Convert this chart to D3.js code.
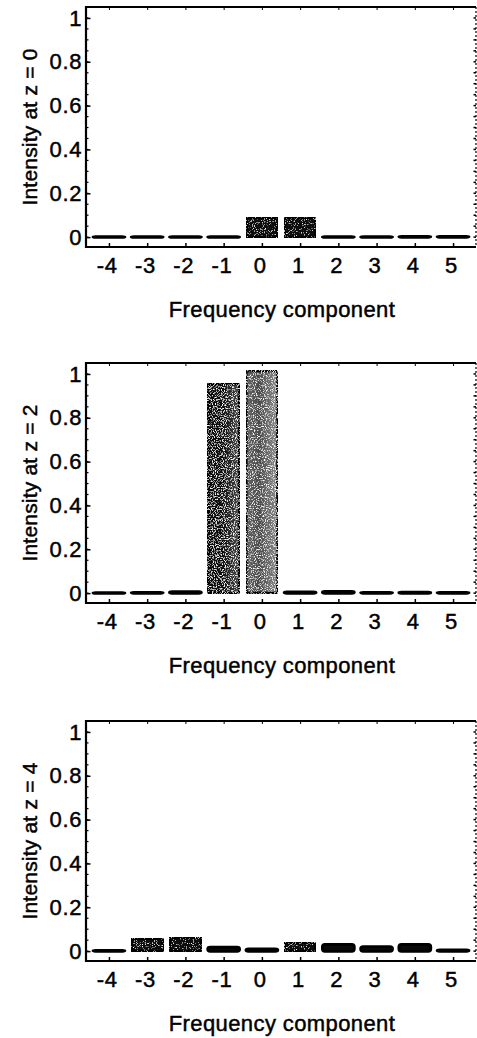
<!DOCTYPE html>
<html lang="en">
<head>
  <meta charset="utf-8">
  <title>Frequency component intensity</title>
  <script src="https://d3js.org/d3.v7.min.js"></script>
  <style>
    body { margin: 0; background: #fff; }
    svg text { font-family: "Liberation Sans", Arial, Helvetica, sans-serif; fill: #000; stroke: #000; stroke-width: 0.45px; }
  </style>
</head>
<body>
  <svg width="477" height="1038"></svg>

  <script>
    // data
    var components = [-4, -3, -2, -1, 0, 1, 2, 3, 4, 5];
    var intensityZ0 = [0.002, 0.002, 0.002, 0.002, 0.088, 0.088, 0.002, 0.002, 0.003, 0.003];
    var intensityZ2 = [0.002, 0.003, 0.006, 0.955, 1.015, 0.005, 0.007, 0.003, 0.004, 0.003];
    var intensityZ4 = [0.003, 0.056, 0.064, 0.018, 0.01, 0.04, 0.03, 0.02, 0.03, 0.005];
    var panelLabels = ["Intensity at z = 0", "Intensity at z = 2", "Intensity at z = 4"];
    var yTicks = [0, 0.2, 0.4, 0.6, 0.8, 1];
    var xTitle = "Frequency component";

    var series = [intensityZ0, intensityZ2, intensityZ4];

    var svg = d3.select("svg"),
      left = 86,
      right = 476,
      frameH = 240,
      panelTops = [7, 363, 721];

    var x = d3.scaleLinear().domain([-4.6, 5.6]).range([left, right]);
    var y = d3.scaleLinear().domain([-0.045, 1.05]).range([frameH, 0]);
    var barW = (x(1) - x(0)) * 0.83;

    var defs = svg.append("defs");

    // grainy grey look of the scanned bars
    function grainFilter(id, density, seed) {
      var f = defs.append("filter").attr("id", id)
        .attr("x", 0).attr("y", 0).attr("width", 1).attr("height", 1);
      f.append("feTurbulence").attr("type", "fractalNoise")
        .attr("baseFrequency", 0.9).attr("numOctaves", 2).attr("seed", seed).attr("result", "noise");
      f.append("feColorMatrix").attr("in", "noise").attr("type", "matrix")
        .attr("values", "0 0 0 0 1  0 0 0 0 1  0 0 0 0 1  0 0 0 -4 " + density).attr("result", "speck");
      f.append("feComposite").attr("in", "speck").attr("in2", "SourceGraphic")
        .attr("operator", "in").attr("result", "specks");
      var m = f.append("feMerge");
      m.append("feMergeNode").attr("in", "SourceGraphic");
      m.append("feMergeNode").attr("in", "specks");
    }
    grainFilter("grain", 1.95, 3);
    grainFilter("grainLight", 1.6, 7);

    function gradient(id, stops) {
      var g = defs.append("linearGradient").attr("id", id)
        .attr("x1", 0).attr("x2", 1).attr("y1", 0).attr("y2", 0);
      stops.forEach(s => g.append("stop").attr("offset", s[0]).attr("stop-color", s[1]));
    }
    gradient("darkBar", [[0, "#050505"], [0.5, "#111"], [1, "#4a4a4a"]]);
    gradient("lightBar", [[0, "#666"], [0.4, "#4a4a4a"], [0.7, "#6a6a6a"], [1, "#8a8a8a"]]);

    function barFill(i, v) {
      if (v < 0.3) return "#0a0a0a";
      return components[i] < 0 ? "url(#darkBar)" : "url(#lightBar)";
    }

    function barFilter(p, i, v) {
      if (v > 0.3) return "url(#grain)";
      if (v > 0.035) return "url(#grainLight)";
      return null;
    }

    series.forEach(function(values, p) {
      var g = svg.append("g").attr("transform", "translate(0," + panelTops[p] + ")");

      // minor ticks on the left and right edges
      var minor = d3.range(0, 1.051, 0.05);
      g.selectAll(".minorL").data(minor).join("line")
        .attr("x1", left).attr("x2", left + 2.5)
        .attr("y1", d => y(d)).attr("y2", d => y(d))
        .attr("stroke", "#000").attr("stroke-width", 1.2);
      g.selectAll(".minorR").data(minor).join("line")
        .attr("x1", right - 2.5).attr("x2", right)
        .attr("y1", d => y(d)).attr("y2", d => y(d))
        .attr("stroke", "#000").attr("stroke-width", 1.5);

      var yAxis = d3.axisLeft(y).tickValues(yTicks).tickSize(-4.5).tickPadding(4)
        .tickFormat(d => d === 0 ? "0" : d === 1 ? "1" : d3.format(".1f")(d));
      var ya = g.append("g").attr("transform", "translate(" + left + ",0)").call(yAxis);

      var xAxis = d3.axisBottom(x).tickValues(components).tickSize(-4).tickPadding(10)
        .tickFormat(d => String(d));
      var xa = g.append("g").attr("transform", "translate(0," + frameH + ")").call(xAxis);

      var xTop = d3.axisTop(x).tickValues(components).tickSize(-3).tickFormat("");
      g.append("g").call(xTop).select(".domain").remove();

      [ya, xa].forEach(a => {
        a.select(".domain").remove();
        a.selectAll("line").attr("stroke-width", 1.5);
        a.selectAll("text").attr("font-size", 22).attr("letter-spacing", 0.6)
          .style("font-family", "'Liberation Sans', Arial, sans-serif");
      });
      xa.selectAll("text").attr("dx", "-0.1em");

      // bars
      g.selectAll(".bar").data(values).join("rect")
        .attr("class", "bar")
        .attr("x", (d, i) => x(components[i]) - barW / 2)
        .attr("width", barW)
        .attr("y", d => y(d))
        .attr("height", d => Math.max(y(0) - y(d), 0.5))
        .attr("rx", 2.5).attr("ry", 2.5)
        .attr("fill", (d, i) => barFill(i, d))
        .attr("filter", (d, i) => barFilter(p, i, d))
        .attr("stroke", "#000")
        .attr("stroke-width", 3);

      // frame
      g.append("path")
        .attr("d", "M" + right + ",0H" + left + "V" + frameH + "H" + right)
        .attr("fill", "none").attr("stroke", "#000").attr("stroke-width", 2.2);
      g.append("line")
        .attr("x1", right).attr("x2", right).attr("y1", 0).attr("y2", frameH)
        .attr("stroke", "#000").attr("stroke-width", 1.2).attr("stroke-dasharray", "2,2");

      // axis titles
      g.append("text")
        .attr("transform", "translate(37," + (frameH / 2) + ") rotate(-90)")
        .attr("text-anchor", "middle")
        .attr("font-size", 21)
        .attr("letter-spacing", 0.2)
        .text(panelLabels[p]);

      g.append("text")
        .attr("x", 282).attr("y", frameH + 70)
        .attr("text-anchor", "middle")
        .attr("font-size", 22)
        .attr("letter-spacing", 0.4)
        .text(xTitle);
    });
  </script>
</body>
</html>
